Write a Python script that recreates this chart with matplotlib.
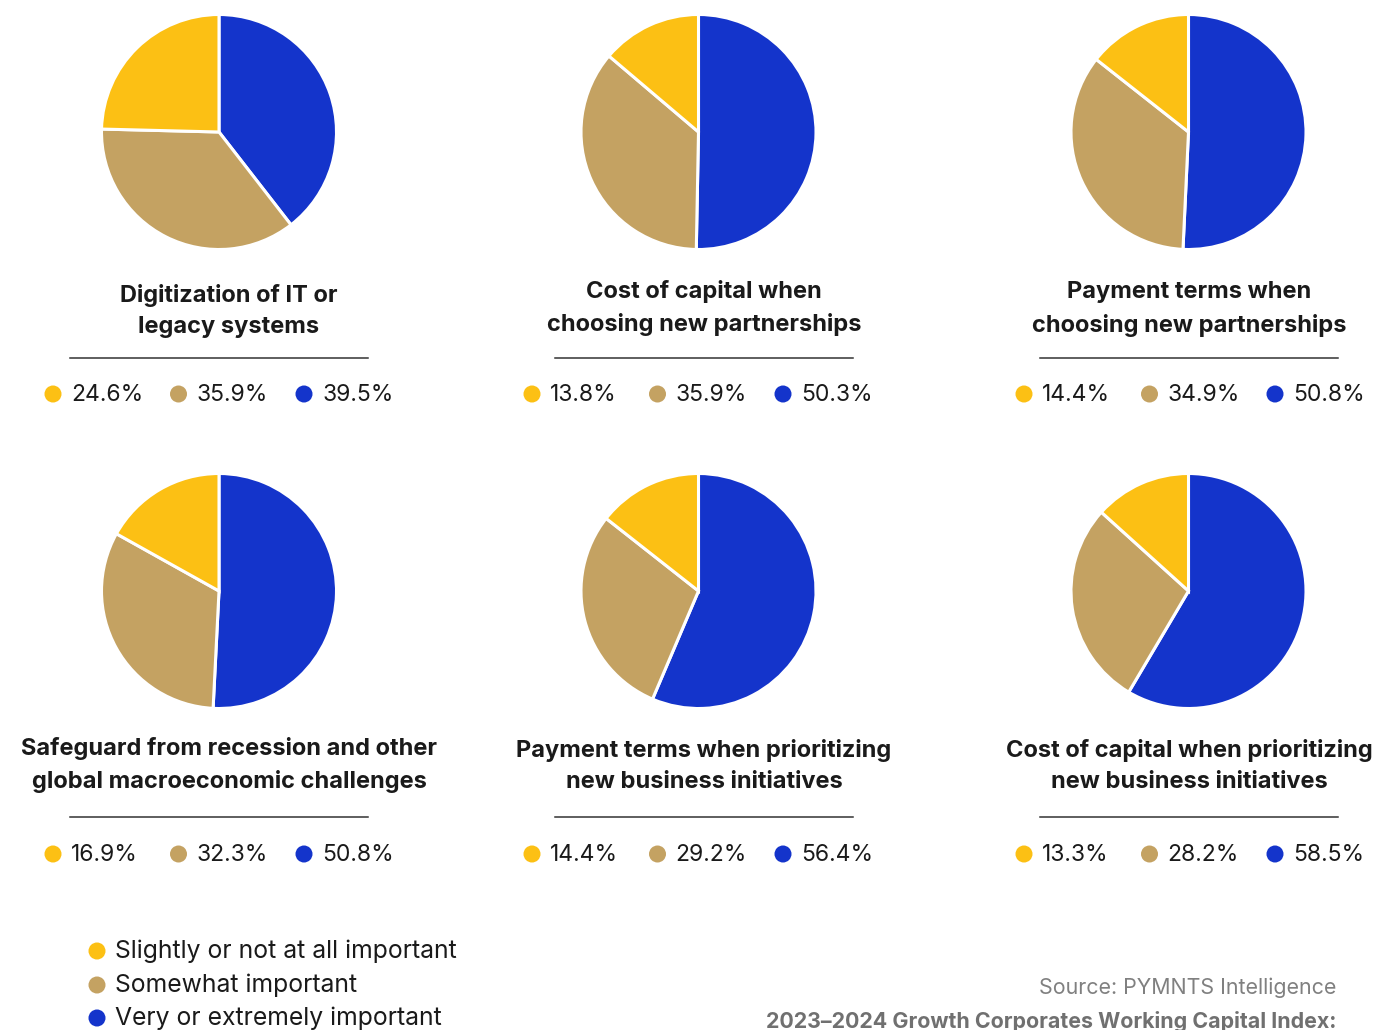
import matplotlib
matplotlib.use("Agg")
import matplotlib.pyplot as plt

W, H = 1379, 1030

categories = ["Slightly or not at all important", "Somewhat important", "Very or extremely important"]
colors = ["#FCC014", "#C4A262", "#1434CB"]

titles = [
    "Digitization of IT or\nlegacy systems",
    "Cost of capital when\nchoosing new partnerships",
    "Payment terms when\nchoosing new partnerships",
    "Safeguard from recession and other\nglobal macroeconomic challenges",
    "Payment terms when prioritizing\nnew business initiatives",
    "Cost of capital when prioritizing\nnew business initiatives",
]
slightly = [24.6, 13.8, 14.4, 16.9, 14.4, 13.3]
somewhat = [35.9, 35.9, 34.9, 32.3, 29.2, 28.2]
very = [39.5, 50.3, 50.8, 50.8, 56.4, 58.5]

source_text = "Source: PYMNTS Intelligence"
footer_text = "2023\u20132024 Growth Corporates Working Capital Index:"

plt.rcParams['font.family'] = ['Inter', 'DejaVu Sans']

fig = plt.figure(figsize=(W / 100, H / 100), dpi=100)
fig.patch.set_facecolor("white")

col_cx = [219, 698.5, 1188.5]
row_cy = [132, 591]
R = 117.5
title_cx = [229, 704, 1189]
title_y = [[311, 308, 309], [765, 766, 766]]
line_y = [358, 817]
line_x = [(70, 368), (555, 853), (1040, 1338)]
val_y = [394, 854]
dot_x0 = [53, 532, 1024]
dot_step = 125.5
text_off = 18

# overlay axes in pixel coords
ov = fig.add_axes([0, 0, 1, 1], zorder=0)
ov.set_xlim(0, W)
ov.set_ylim(H, 0)
ov.axis("off")

for i in range(6):
    r, c = divmod(i, 3)
    cx, cy = col_cx[c], row_cy[r]
    ax = fig.add_axes([(cx - R) / W, 1 - (cy + R) / H, 2 * R / W, 2 * R / H], zorder=2)
    vals = [very[i], somewhat[i], slightly[i]]
    cols = [colors[2], colors[1], colors[0]]
    wedges, _ = ax.pie(vals, colors=cols, startangle=90, counterclock=False,
                       wedgeprops=dict(edgecolor="white", linewidth=2.2))
    for w in wedges:
        w.set_clip_on(False)
    ax.set_xlim(-1.0, 1.0)
    ax.set_ylim(-1.0, 1.0)
    ax.set_aspect("equal")
    ax.axis("off")

    ov.text(title_cx[c], title_y[r][c], titles[i], ha="center", va="center",
            fontsize=17, fontweight="bold", color="#1a1a1a", linespacing=1.58)
    x0, x1 = line_x[c]
    ov.plot([x0, x1], [line_y[r], line_y[r]], color="#333333", lw=1.1)
    vlist = [slightly[i], somewhat[i], very[i]]
    for k in range(3):
        dx = dot_x0[c] + k * dot_step
        ov.scatter([dx], [val_y[r]], s=150, color=colors[k], edgecolors="none")
        ov.text(dx + text_off, val_y[r] + 1, f"{vlist[k]:.1f}%", ha="left", va="center",
                fontsize=16.5, color="#1a1a1a")

leg_y = [951, 985, 1018]
for k in range(3):
    ov.scatter([97], [leg_y[k]], s=150, color=colors[k], edgecolors="none")
    ov.text(115, leg_y[k], categories[k], ha="left", va="center", fontsize=17.8, color="#1a1a1a")

ov.text(1336, 988, source_text, ha="right", va="center", fontsize=15.4, color="#808080")
ov.text(1336, 1021, footer_text, ha="right", va="center", fontsize=15.4,
        fontweight="bold", color="#707070")

fig.savefig("out.png", dpi=100, facecolor="white")
